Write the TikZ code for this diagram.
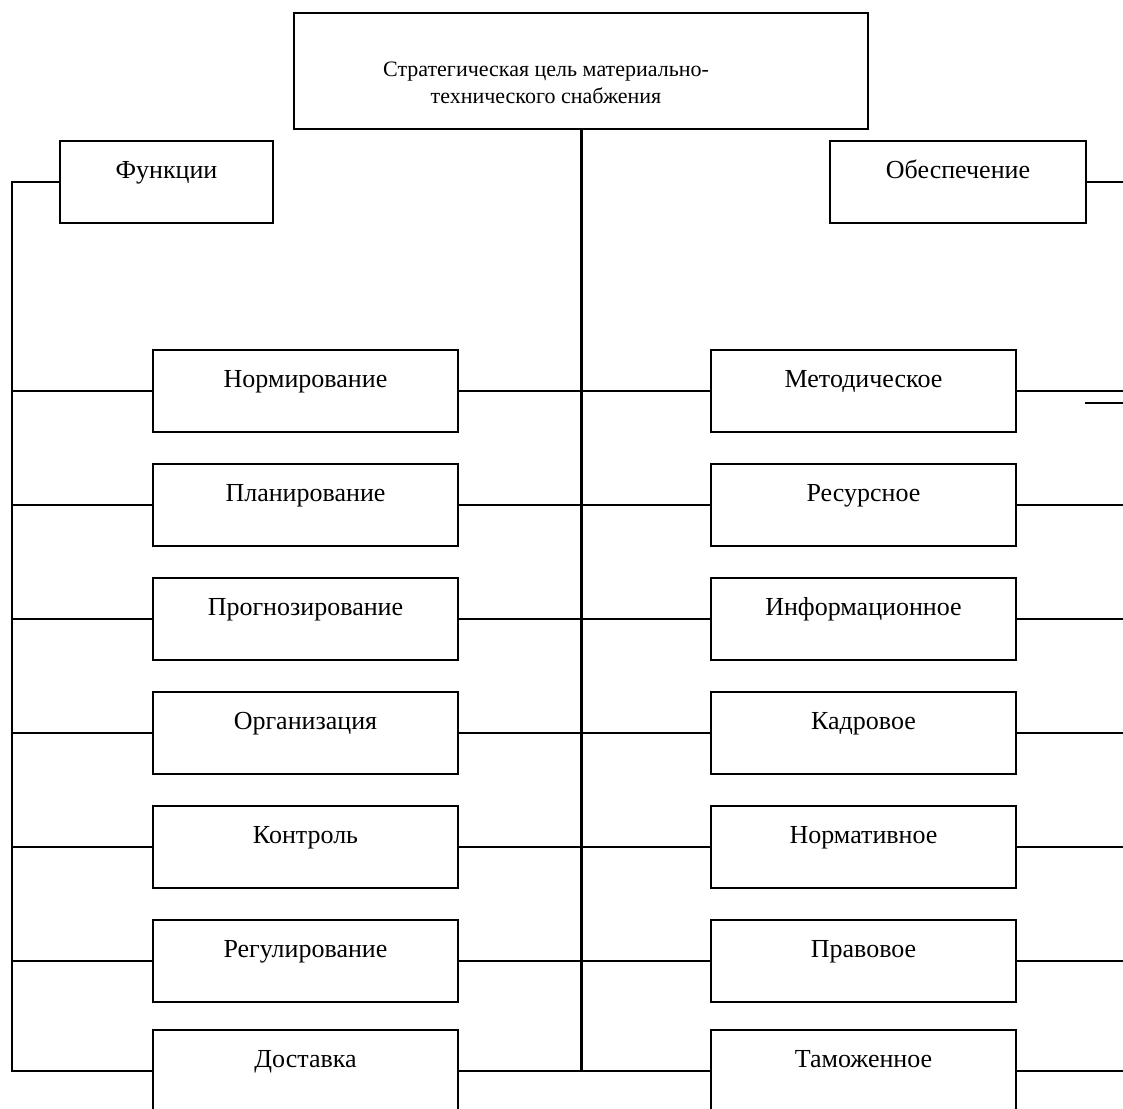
\documentclass[tikz,border=0pt]{standalone}
\usepackage{fontspec}
\setmainfont{Liberation Serif}
\usetikzlibrary{positioning}

\tikzset{
  blockBox/.style={draw, line width=1.5pt, inner sep=0pt, outer sep=0pt, minimum height=82pt,
    text height=37pt, text depth=45pt, font=\fontsize{26}{30}\selectfont},
  itemBox/.style={blockBox, minimum width=305pt},
  linkLine/.style={line width=1.8pt},
  busLine/.style={line width=2pt},
  trunkLine/.style={line width=3pt}
}

\begin{document}
\begin{tikzpicture}[x=1pt,y=-1pt]
  \useasboundingbox (0,0) rectangle (1123,1108);
  \clip (0,0) rectangle (1123,1108);
  % Goal
  \node[blockBox, minimum width=574pt, minimum height=116pt, text height=63pt, text depth=53pt,
    font=\fontsize{22}{27}\selectfont]
    (goal) at (581,71) {\begin{tabular}[t]{@{}c@{\hspace{70pt}}}Стратегическая цель материально-\\технического снабжения\end{tabular}};
  \node[blockBox, minimum width=213pt] (func) at (166.5,182) {Функции};
  \node[blockBox, minimum width=256pt] (supp) at (958,182) {Обеспечение};
  % Functions
  \node[itemBox] (norm) at (305.5,391) {Нормирование};
  \node[itemBox, below=32pt of norm] (plan) {Планирование};
  \node[itemBox, below=32pt of plan] (prog) {Прогнозирование};
  \node[itemBox, below=32pt of prog] (orgn) {Организация};
  \node[itemBox, below=32pt of orgn] (ctrl) {Контроль};
  \node[itemBox, below=32pt of ctrl] (regl) {Регулирование};
  \node[itemBox, below=28pt of regl] (dost) {Доставка};
  % Support
  \node[itemBox, right=253pt of norm] (meth) {Методическое};
  \node[itemBox, right=253pt of plan] (resr) {Ресурсное};
  \node[itemBox, right=253pt of prog] (info) {Информационное};
  \node[itemBox, right=253pt of orgn] (kadr) {Кадровое};
  \node[itemBox, right=253pt of ctrl] (nrmv) {Нормативное};
  \node[itemBox, right=253pt of regl] (prav) {Правовое};
  \node[itemBox, right=253pt of dost] (tamo) {Таможенное};
  % Buses
  \coordinate (lbus) at (12,0);
  \coordinate (redge) at (1123,0);
  \coordinate (stub) at (1085,403);
  \draw[trunkLine] (goal.south) -- (goal.south |- dost.east);
  \draw[busLine] (func.west) -| (lbus |- dost.west) -- (dost.west);
  \draw[busLine] (supp.east) -- (supp.east -| redge);
  \foreach \f/\s in {norm/meth, plan/resr, prog/info, orgn/kadr, ctrl/nrmv, regl/prav, dost/tamo} {
    \draw[linkLine] (\f.east) -- (\s.west);
    \draw[linkLine] (\s.east) -- (\s.east -| redge);
  }
  \foreach \f in {norm, plan, prog, orgn, ctrl, regl}
    \draw[linkLine] (lbus |- \f.west) -- (\f.west);
  \draw[linkLine] (stub) -- (stub -| redge);
\end{tikzpicture}
\end{document}
